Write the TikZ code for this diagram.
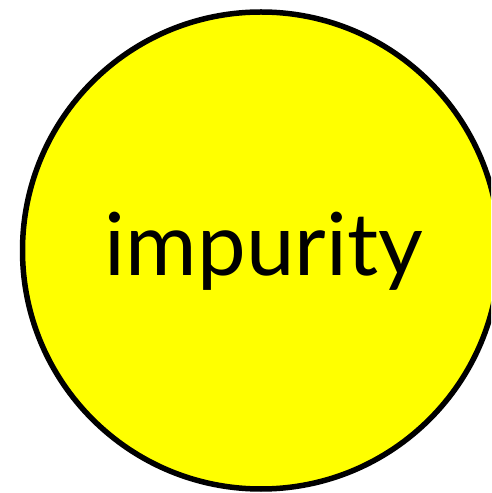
\documentclass[tikz,border=0pt]{standalone}
\usepackage{fontspec}
\setmainfont{Lato}
\definecolor{ballyellow}{RGB}{255,255,0}
\begin{document}
\begin{tikzpicture}[x=1pt,y=1pt,
  ball/.style={circle,draw=black,fill=ballyellow,line width=5.5pt,minimum size=477pt,inner sep=0pt},
  label/.style={inner sep=0pt,anchor=base,font=\fontsize{88}{100}\selectfont}]
\useasboundingbox (0,0) rectangle (491,493);
\clip (0,0) rectangle (491,493);
\node[ball] (c) at (261,242.5) {};
\node[label] (t) at (264,217) {\resizebox{318pt}{!}{impurity}};
\end{tikzpicture}
\end{document}
